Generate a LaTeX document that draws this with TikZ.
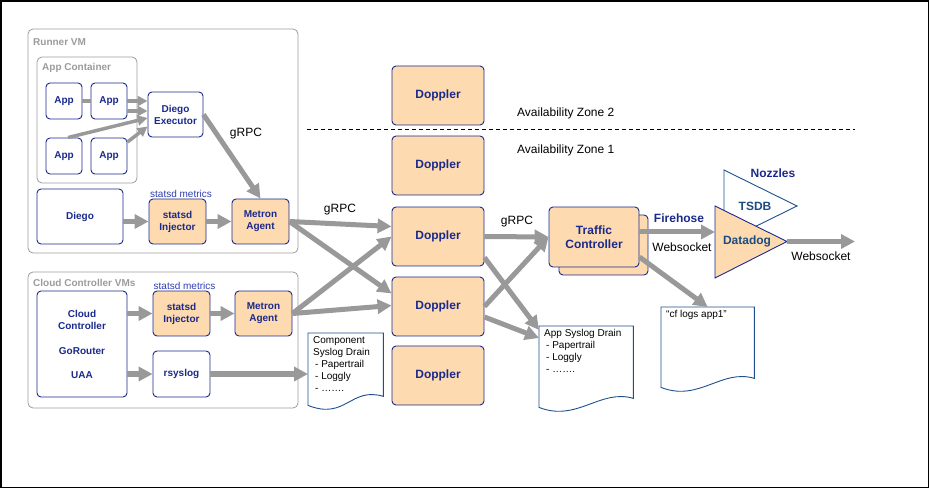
\documentclass[tikz,border=0pt]{standalone}
\usepackage{fontspec}
\setmainfont{Liberation Sans}
\usetikzlibrary{arrows.meta}

\definecolor{boxnavy}{HTML}{1A2A8C}
\definecolor{dopfill}{HTML}{FDDAB0}
\definecolor{vmgray}{HTML}{9B9B9B}
\definecolor{flowgray}{HTML}{999999}
\definecolor{docblue}{HTML}{1F4F8F}
\definecolor{metblue}{HTML}{2E3DB0}
\definecolor{ddnavy}{HTML}{1D4C80}

% wavy outline of a document node
\newcommand{\docwave}[1]{%
  \draw[docline] (#1.north west) -- (#1.north east) -- ([yshift=12pt]#1.south east)
    .. controls ([xshift=-33pt,yshift=22pt]#1.south east) and ([xshift=38pt,yshift=-12pt]#1.south west)
    .. ([yshift=3pt]#1.south west) -- cycle;}

\begin{document}
\begin{tikzpicture}[x=1pt,y=-1pt,
  vm/.style={draw=vmgray, rounded corners=5pt, line width=0.8pt},
  vmlabel/.style={text=vmgray, font=\bfseries\fontsize{10}{12}\selectfont, anchor=west, inner sep=0},
  box/.style={draw=boxnavy, fill=white, rounded corners=4pt, line width=0.9pt, text=boxnavy,
    font=\bfseries\fontsize{10}{12}\selectfont, align=center, inner sep=1pt},
  orange/.style={box, fill=dopfill},
  doppler/.style={orange, minimum width=92, minimum height=59, font=\bfseries\fontsize{12}{14}\selectfont},
  note/.style={font=\fontsize{12}{14}\selectfont, inner sep=0},
  metric/.style={text=metblue, font=\fontsize{10}{12}\selectfont, inner sep=0},
  fire/.style={text=boxnavy, font=\bfseries\fontsize{12}{14}\selectfont, inner sep=0},
  ddtext/.style={text=ddnavy, font=\bfseries\fontsize{12}{14}\selectfont, inner sep=0},
  doc/.style={anchor=north west, inner sep=0},
  docline/.style={draw=docblue, line width=0.9pt, fill=white},
  doctext/.style={anchor=north west, align=left, inner sep=0, font=\fontsize{10}{12}\selectfont},
  flow/.style={draw=flowgray, line width=5pt, -{Triangle[length=14pt,width=14pt]}},
  thinflow/.style={draw=flowgray, line width=3.5pt, -{Triangle[length=10pt,width=10pt]}},
  zone/.style={line width=0.8pt, dash pattern=on 4pt off 3pt}]

\useasboundingbox (0,0) rectangle (930,489);
% Frame
\draw[line width=1.5pt] (1,1) rectangle (928.5,487.5);

% Runner VM
\node[vm, minimum width=270, minimum height=224] (runnervm) at (163,141) {};
\node[vmlabel] (runnerlbl) at (33,42) {Runner VM};
\node[vm, minimum width=100, minimum height=126] (appcont) at (87,120) {};
\node[vmlabel] (appcontlbl) at (42,68) {App Container};
\foreach \nm/\x/\y in {app1/64/101, app2/109/101, app3/64/156, app4/109/156}
  \node[box, minimum width=36, minimum height=36] (\nm) at (\x,\y) {App};
\node[box, minimum width=55, minimum height=45] (executor) at (175.5,114.5) {Diego\\Executor};
\node[box, minimum width=86, minimum height=55] (diego) at (80,216.5) {Diego};
\node[orange, minimum width=57, minimum height=45] (inj1) at (177.5,221.5) {statsd\\Injector};
\node[orange, minimum width=57, minimum height=45] (metron1) at (260.5,221.5) {Metron\\Agent};
\node[metric] (met1) at (181,194) {statsd metrics};

% Cloud Controller VMs
\node[vm, minimum width=270, minimum height=136] (ccvms) at (163,340) {};
\node[vmlabel] (ccvmslbl) at (33,283) {Cloud Controller VMs};
\node[box, minimum width=90, minimum height=106] (cc) at (82,344) {Cloud\\Controller\\[13pt]GoRouter\\[12pt]UAA};
\node[orange, minimum width=57, minimum height=45] (inj2) at (181.5,313.5) {statsd\\Injector};
\node[orange, minimum width=57, minimum height=45] (metron2) at (263.5,313.5) {Metron\\Agent};
\node[box, minimum width=57, minimum height=46] (rsyslog) at (181.5,374) {rsyslog};
\node[metric] (met2) at (184.5,286) {statsd metrics};

% Dopplers
\foreach \i/\y in {1/95.5, 2/165.5, 3/236.5, 4/306.5, 5/375.5}
  \node[doppler] (d\i) at (438,\y) {Doppler};
\draw[zone] (307,129) -- (855,129);
\node[note, anchor=west] (az2) at (517,113) {Availability Zone 2};
\node[note, anchor=west] (az1) at (517,150) {Availability Zone 1};

% Traffic Controller
\node[orange, minimum width=89, minimum height=60] (tcback) at (603.5,245) {};
\node[orange, minimum width=90, minimum height=60, font=\bfseries\fontsize{12}{14}\selectfont] (tc) at (594,237) {Traffic\\Controller};

% Nozzles
\draw[draw=docblue, fill=white, line width=0.9pt] (724,170) -- (797,206) -- (724,242) -- cycle;
\draw[draw=boxnavy, fill=dopfill, line width=0.9pt] (715,206) -- (787,241.5) -- (715,278) -- cycle;
\coordinate (ddin) at (715,232);
\coordinate (ddtip) at (787,241.5);
\coordinate (wsout) at (855,241.5);
\node[fire] (nozzles) at (773,173) {Nozzles};
\node[ddtext] (tsdb) at (755,206) {TSDB};
\node[ddtext] (datadog) at (747,241) {Datadog};

% Documents
\node[doc, minimum width=75, minimum height=75] (compdrain) at (308,333) {};
\docwave{compdrain}
\node[doctext] (compdraintxt) at ([shift={(5,3)}]compdrain.north west)
  {Component\\Syslog Drain\\\hspace{2pt}- Papertrail\\\hspace{2pt}- Loggly\\\hspace{2pt}- …….};
\node[doc, minimum width=94, minimum height=84] (appdrain) at (539,326) {};
\docwave{appdrain}
\node[doctext] (appdraintxt) at ([shift={(5,3)}]appdrain.north west)
  {App Syslog Drain\\\hspace{2pt}- Papertrail\\\hspace{2pt}- Loggly\\\hspace{2pt}- …….};
\node[doc, minimum width=93, minimum height=83] (cflogs) at (661,307) {};
\docwave{cflogs}
\node[doctext] (cflogstxt) at ([shift={(5,3)}]cflogs.north west) {“cf logs app1”};

% Labels
\node[note] (grpc1) at (246,134) {gRPC};
\node[note] (grpc2) at (340,210) {gRPC};
\node[note] (grpc3) at (517,222) {gRPC};
\node[fire] (firehose) at (679,218) {Firehose};
\node[note] (ws1) at (682,247) {Websocket};
\node[note] (ws2) at (821,256) {Websocket};

% Runner VM flows
\draw[draw=flowgray, line width=4pt] (app1) -- (app2);
\draw[thinflow] (app2.east) -- ([yshift=13.5pt]executor.west);
\draw[thinflow] ([yshift=-10pt]app2.east) -- ([yshift=3.5pt]executor.west);
\draw[thinflow] ([xshift=4pt]app3.north) -- ([yshift=-3.5pt]executor.west);
\draw[thinflow] ([yshift=14pt]app4.east) -- ([yshift=-12pt]executor.west);
\draw[flow] (executor.east) -- (metron1.north);
\draw[flow] (diego.east |- inj1.west) -- (inj1.west);
\draw[flow] (inj1) -- (metron1);

% Cloud Controller flows
\draw[flow] (cc.east |- inj2.west) -- (inj2.west);
\draw[flow] (inj2) -- (metron2);
\draw[flow] (cc.east |- rsyslog.west) -- (rsyslog.west);
\draw[flow] (rsyslog.east) -- (compdrain.west |- rsyslog.east);

% Metron to Doppler
\draw[flow] (metron1.east) -- ([yshift=10pt]d3.west);
\draw[flow] (metron1.east) -- ([yshift=13pt]d4.west);
\draw[flow] (metron2.east) -- (d3.west);
\draw[flow] (metron2.east) -- ([yshift=1pt]d4.west);

% Doppler out
\draw[flow] (d3.east) -- (tc.west);
\draw[flow] (d4.east) -- (tc.west);
\draw[flow] ([yshift=-21pt]d3.east) -- ([yshift=-4pt]appdrain.north west);
\draw[flow] ([yshift=-10.5pt]d4.east) -- ([yshift=-12pt]appdrain.north west);

% Firehose
\draw[flow] ([yshift=5pt]tc.east) -- (ddin);
\draw[flow] ([yshift=-20pt]tc.east) -- (cflogs.north);
\draw[flow] (ddtip) -- (wsout);
\end{tikzpicture}
\end{document}
